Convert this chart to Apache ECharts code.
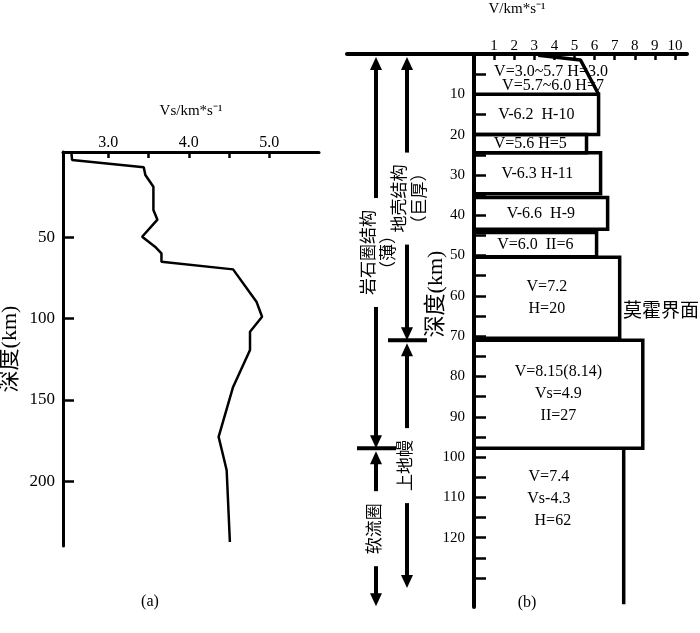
<!DOCTYPE html>
<html>
<head>
<meta charset="utf-8">
<script src="https://cdn.jsdelivr.net/npm/echarts@6/dist/echarts.min.js"></script>
<style>
  html, body { margin: 0; padding: 0; background: #fff; }
  #main { width: 700px; height: 633px; }
</style>
</head>
<body>
<div id="main"></div>
<script>
// (a) 剪切波速度剖面
const vsDepth = [-2.7, 2.2, 6.7, 11.5, 18.7, 33, 39, 49.5, 55.6, 59.7, 64.9, 69.6, 89.5, 98.8, 108, 119.3, 142, 172.8, 185, 193.3, 237.5];
const vsValue = [2.54, 2.55, 3.44, 3.46, 3.56, 3.56, 3.61, 3.42, 3.58, 3.66, 3.66, 4.55, 4.84, 4.91, 4.76, 4.76, 4.55, 4.37, 4.43, 4.47, 4.51];
const vsTicks = [3.0, 3.5, 4.0, 4.5, 5.0];
const vsLabels = [3.0, 4.0, 5.0];
const depthTicksA = [50, 100, 150, 200];

// (b) 分层结构
const vTicks = [1, 2, 3, 4, 5, 6, 7, 8, 9, 10];
const depthTicksB = [5, 10, 15, 20, 25, 30, 35, 40, 45, 50, 55, 60, 65, 70, 75, 80, 85, 90, 95, 100, 105, 110, 115, 120, 125, 130];
const depthLabelsB = [10, 20, 30, 40, 50, 60, 70, 80, 90, 100, 110, 120];

const surfaceDepth = [0.3, 1.5, 10];
const surfaceV = [3.2, 5.3, 6.2];
const surfaceText = ['V=3.0~5.7 H=3.0', 'V=5.7~6.0 H=7'];

const layerTop = [10, 20, 24.5, 35.6, 44.3, 50.4, 71, 97.8];
const layerBottom = [20, 24.5, 34.7, 43.5, 50.3, 70.5, 97.8, 136.5];
const layerV = [6.2, 5.6, 6.3, 6.65, 6.1, 7.25, 8.4, 7.45];
const layerText = [
    'V-6.2  H-10',
    'V=5.6 H=5',
    'V-6.3 H-11',
    'V-6.6  H-9',
    'V=6.0  II=6',
    'V=7.2\nH=20',
    'V=8.15(8.14)\nVs=4.9\nII=27',
    'V=7.4\nVs-4.3\n  H=62'
];

const bracketName = ['岩石圈结构\n（薄）', '软流圈', '地壳结构\n（巨厚）', '上地幔'];
const bracketTop = [0, 97.8, 0, 71];
const bracketBottom = [97.8, 137, 71, 132.5];
const bracketColumn = [0, 0, 1, 1];

const SERIF = '"Liberation Serif", "Noto Sans CJK SC", serif';

const chart = echarts.init(document.getElementById('main'));

function layerItem(params, api) {
    const i = api.value(3);
    const p0 = api.coord([0, api.value(1)]);
    const p1 = api.coord([api.value(0), api.value(2)]);
    const last = i === layerTop.length - 1;
    const children = [];
    if (last) {
        children.push({
            type: 'line',
            shape: { x1: p1[0], y1: p0[1], x2: p1[0], y2: p1[1] },
            style: { stroke: '#000', lineWidth: 3.5 }
        });
    } else {
        children.push({
            type: 'rect',
            shape: { x: p0[0], y: p0[1], width: p1[0] - p0[0], height: p1[1] - p0[1] },
            style: { fill: 'none', stroke: '#000', lineWidth: 3.5 }
        });
    }
    children.push({
        type: 'text',
        x: (p0[0] + p1[0]) / 2,
        y: last ? p0[1] + 18 : (p0[1] + p1[1]) / 2,
        style: {
            text: layerText[i],
            fill: '#000',
            fontSize: 16,
            fontFamily: SERIF,
            lineHeight: 22,
            align: 'center',
            verticalAlign: last ? 'top' : 'middle'
        }
    });
    return { type: 'group', children: children };
}

function bracketItem(params, api) {
    const i = api.value(2);
    const x0 = api.coord([0, 0])[0];
    const cx = x0 + (bracketColumn[i] === 0 ? -98 : -67);
    const yt = api.coord([0, api.value(0)])[1] + 3;
    const yb = api.coord([0, api.value(1)])[1];
    const mid = (yt + yb) / 2;
    const name = bracketName[i];
    const len = name.split('\n')[0].length;
    const half = len * 17 / 2 + 12;
    const stroke = { stroke: '#000', lineWidth: 4 };
    const children = [
        { type: 'line', shape: { x1: cx, y1: yt + 8, x2: cx, y2: mid - half }, style: stroke },
        { type: 'line', shape: { x1: cx, y1: mid + half, x2: cx, y2: yb - 8 }, style: stroke },
        { type: 'polygon', shape: { points: [[cx, yt], [cx - 6, yt + 13], [cx + 6, yt + 13]] }, style: { fill: '#000' } },
        { type: 'polygon', shape: { points: [[cx, yb], [cx - 6, yb - 13], [cx + 6, yb - 13]] }, style: { fill: '#000' } },
        {
            type: 'text',
            x: cx + (name.indexOf('\n') > -1 ? 4 : 0),
            y: mid,
            rotation: Math.PI / 2,
            style: {
                text: name,
                fill: '#000',
                fontSize: 17,
                fontFamily: SERIF,
                lineHeight: 20,
                align: 'center',
                verticalAlign: 'middle'
            }
        }
    ];
    if (api.value(0) > 0) {
        children.push({
            type: 'line',
            shape: { x1: cx - 19, y1: yt - 3, x2: cx + 20, y2: yt - 3 },
            style: stroke
        });
    }
    return { type: 'group', children: children };
}

const option = {
    backgroundColor: '#fff',
    animation: false,
    textStyle: { fontFamily: SERIF, color: '#000' },
    grid: [
        { left: 63, top: 152, width: 256, height: 394, outerBoundsMode: 'none', containLabel: false },
        { left: 347, top: 54, width: 340, height: 553, outerBoundsMode: 'none', containLabel: false }
    ],
    xAxis: [
        {
            gridIndex: 0,
            type: 'value',
            position: 'top',
            min: 2.437,
            max: 5.617,
            name: 'Vs/km*s⁻¹',
            nameLocation: 'middle',
            nameGap: 33,
            nameTextStyle: { fontSize: 15, color: '#000', fontFamily: SERIF },
            splitLine: { show: false },
            axisLine: { onZero: false, lineStyle: { color: '#000', width: 3 } },
            axisTick: { inside: true, length: 6, customValues: vsTicks, lineStyle: { color: '#000', width: 2.5 } },
            axisLabel: {
                customValues: vsLabels,
                margin: 1,
                fontSize: 16,
                color: '#000',
                formatter: v => v.toFixed(1)
            }
        },
        {
            gridIndex: 1,
            type: 'value',
            position: 'top',
            min: -6.32,
            max: 10.6,
            name: 'V/km*s⁻¹',
            nameLocation: 'middle',
            nameGap: 37,
            nameTextStyle: { fontSize: 15, color: '#000', fontFamily: SERIF },
            splitLine: { show: false },
            axisLine: { onZero: false, lineStyle: { color: '#000', width: 4 } },
            axisTick: { inside: true, length: 6, customValues: vTicks, lineStyle: { color: '#000', width: 2.5 } },
            axisLabel: { customValues: vTicks, margin: 0, fontSize: 15, color: '#000' }
        }
    ],
    yAxis: [
        {
            gridIndex: 0,
            type: 'value',
            inverse: true,
            min: -2.7,
            max: 240,
            name: '深度(km)',
            nameLocation: 'middle',
            nameGap: 42,
            nameRotate: 90,
            nameTextStyle: { fontSize: 22, color: '#000', fontFamily: SERIF },
            splitLine: { show: false },
            axisLine: { onZero: false, lineStyle: { color: '#000', width: 3 } },
            axisTick: { inside: true, length: 11, customValues: depthTicksA, lineStyle: { color: '#000', width: 2.5 } },
            axisLabel: { customValues: depthTicksA, margin: 8, fontSize: 17, color: '#000' }
        },
        {
            gridIndex: 1,
            type: 'value',
            inverse: true,
            min: 0,
            max: 137.2,
            splitLine: { show: false },
            axisLine: { onZero: true, lineStyle: { color: '#000', width: 4 } },
            axisTick: { inside: true, length: 12, customValues: depthTicksB, lineStyle: { color: '#000', width: 2.5 } },
            // 标签贴在 V=0 处的深度轴左侧
            axisLabel: { customValues: depthLabelsB, margin: -118, fontSize: 15, color: '#000' }
        }
    ],
    series: [
        {
            type: 'line',
            xAxisIndex: 0,
            yAxisIndex: 0,
            data: vsValue.map((v, i) => [v, vsDepth[i]]),
            showSymbol: false,
            symbol: 'none',
            lineStyle: { color: '#000', width: 2.5 }
        },
        {
            type: 'line',
            xAxisIndex: 1,
            yAxisIndex: 1,
            data: surfaceV.map((v, i) => [v, surfaceDepth[i]]),
            symbol: 'none',
            lineStyle: { color: '#000', width: 3.5 }
        },
        {
            type: 'custom',
            xAxisIndex: 1,
            yAxisIndex: 1,
            clip: false,
            renderItem: layerItem,
            data: layerV.map((v, i) => [v, layerTop[i], layerBottom[i], i])
        },
        {
            type: 'custom',
            xAxisIndex: 1,
            yAxisIndex: 1,
            clip: false,
            renderItem: bracketItem,
            data: bracketTop.map((t, i) => [t, bracketBottom[i], i])
        }
    ],
    graphic: [
        { type: 'text', x: 551, y: 72, style: { text: surfaceText[0], fontSize: 16, fontFamily: SERIF, fill: '#000', align: 'center', verticalAlign: 'middle' } },
        { type: 'text', x: 553, y: 86, style: { text: surfaceText[1], fontSize: 16, fontFamily: SERIF, fill: '#000', align: 'center', verticalAlign: 'middle' } },
        { type: 'text', x: 436, y: 294, rotation: Math.PI / 2, style: { text: '深度(km)', fontSize: 22, fontFamily: SERIF, fill: '#000', align: 'center', verticalAlign: 'middle' } },
        { type: 'text', x: 623, y: 312, style: { text: '莫霍界面', fontSize: 19, fontFamily: SERIF, fill: '#000', align: 'left', verticalAlign: 'middle' } },
        { type: 'text', x: 150, y: 602, style: { text: '(a)', fontSize: 16, fontFamily: SERIF, fill: '#000', align: 'center', verticalAlign: 'middle' } },
        { type: 'text', x: 527, y: 603, style: { text: '(b)', fontSize: 16, fontFamily: SERIF, fill: '#000', align: 'center', verticalAlign: 'middle' } }
    ]
};

chart.setOption(option);

window.addEventListener('resize', function() {
    chart.resize();
});
</script>
</body>
</html>
